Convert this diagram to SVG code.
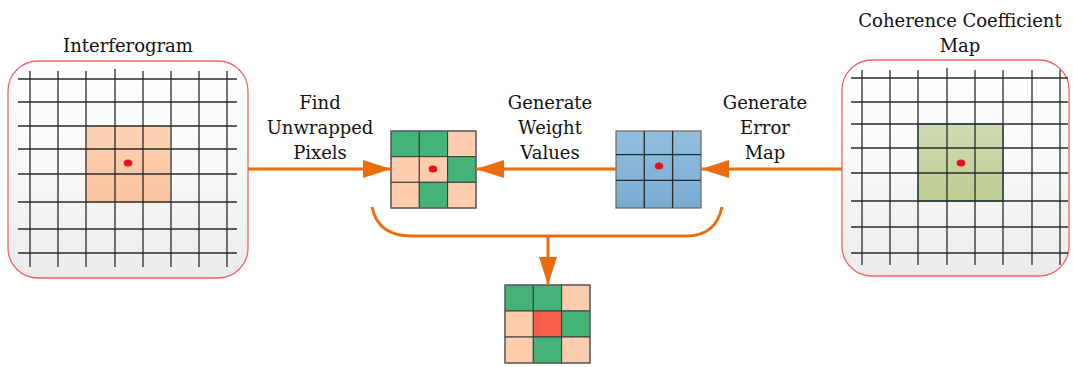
<svg xmlns="http://www.w3.org/2000/svg" width="1073" height="367" viewBox="0 0 1073 367">
<style>
.lbl{font-family:"DejaVu Serif","Liberation Serif",serif;font-size:18px;fill:#111;text-anchor:middle}
.panel{stroke:#f06565;stroke-width:1.3;fill:url(#pg)}
.grid line{stroke:#2a2a2a;stroke-width:1.3}
.conn{stroke:#ec6c0e;stroke-width:3;fill:none}
.cell{stroke:#3a3a3a;stroke-width:1}
.g{fill:#44b377}.p{fill:#fdcdad}.r{fill:#f75d4c}.b{fill:url(#bg)}
.dot{fill:#e8101a}
</style>
<defs>
<linearGradient id="pg" x1="0" y1="0" x2="0" y2="1"><stop offset="0" stop-color="#ffffff"/><stop offset="0.4" stop-color="#fafafa"/><stop offset="1" stop-color="#ebebeb"/></linearGradient>
<linearGradient id="og" x1="0" y1="0" x2="0" y2="1"><stop offset="0" stop-color="#fdd3b6"/><stop offset="1" stop-color="#fbc29e"/></linearGradient>
<linearGradient id="gg" x1="0" y1="0" x2="0" y2="1"><stop offset="0" stop-color="#d0dbb3"/><stop offset="1" stop-color="#bccd92"/></linearGradient>
<linearGradient id="bg" x1="0" y1="0" x2="0" y2="1"><stop offset="0" stop-color="#93bede"/><stop offset="1" stop-color="#79abd1"/></linearGradient>
<marker id="ah" markerUnits="userSpaceOnUse" markerWidth="28" markerHeight="20" refX="28" refY="10" orient="auto"><path d="M0,1 L28,10 L0,19 z" fill="#ec6c0e"/></marker>
</defs>

<g id="interferogram">
<text class="lbl" x="128" y="52">Interferogram</text>
<rect class="panel" x="8" y="61" width="240" height="217" rx="30"/>
<rect x="86" y="126" width="84" height="76" fill="url(#og)"/>
<g class="grid">
<line x1="18" y1="79" x2="237" y2="79"/><line x1="18" y1="102" x2="237" y2="102"/><line x1="18" y1="126" x2="237" y2="126"/><line x1="18" y1="149" x2="237" y2="149"/><line x1="18" y1="174" x2="237" y2="174"/><line x1="18" y1="202" x2="237" y2="202"/><line x1="18" y1="229" x2="237" y2="229"/><line x1="18" y1="253" x2="237" y2="253"/>
<line x1="30" y1="71" x2="30" y2="267"/><line x1="58" y1="71" x2="58" y2="267"/><line x1="86" y1="71" x2="86" y2="267"/><line x1="115" y1="69" x2="115" y2="267"/><line x1="143" y1="71" x2="143" y2="267"/><line x1="171" y1="71" x2="171" y2="267"/><line x1="199" y1="71" x2="199" y2="267"/><line x1="227" y1="71" x2="227" y2="267"/>
</g>
<ellipse class="dot" cx="128" cy="163" rx="4.3" ry="3.6"/>
</g>

<g id="coherence">
<text class="lbl" x="960" y="27">Coherence Coefficient</text>
<text class="lbl" x="960" y="52">Map</text>
<rect class="panel" x="842" y="60" width="227" height="216" rx="30"/>
<rect x="918" y="124" width="85" height="77" fill="url(#gg)" stroke="#1f8a9a" stroke-width="1.2"/>
<g class="grid">
<line x1="851" y1="78" x2="1068" y2="78"/><line x1="851" y1="102" x2="1068" y2="102"/><line x1="851" y1="124" x2="1068" y2="124"/><line x1="851" y1="148" x2="1068" y2="148"/><line x1="851" y1="173" x2="1068" y2="173"/><line x1="851" y1="201" x2="1068" y2="201"/><line x1="851" y1="227" x2="1068" y2="227"/><line x1="851" y1="253" x2="1068" y2="253"/>
<line x1="862" y1="70" x2="862" y2="265"/><line x1="890" y1="70" x2="890" y2="265"/><line x1="918" y1="70" x2="918" y2="265"/><line x1="947" y1="68" x2="947" y2="265"/><line x1="975" y1="70" x2="975" y2="265"/><line x1="1003" y1="70" x2="1003" y2="265"/><line x1="1032" y1="70" x2="1032" y2="265"/><line x1="1060" y1="70" x2="1060" y2="265"/>
</g>
<ellipse class="dot" cx="961" cy="163" rx="4.3" ry="3.6"/>
</g>

<g id="weights">
<rect class="cell g" x="391" y="131" width="28.3" height="25.7"/>
<rect class="cell g" x="419.3" y="131" width="28.3" height="25.7"/>
<rect class="cell p" x="447.6" y="131" width="28.4" height="25.7"/>
<rect class="cell p" x="391" y="156.7" width="28.3" height="25.6"/>
<rect class="cell p" x="419.3" y="156.7" width="28.3" height="25.6"/>
<rect class="cell g" x="447.6" y="156.7" width="28.4" height="25.6"/>
<rect class="cell p" x="391" y="182.3" width="28.3" height="25.7"/>
<rect class="cell g" x="419.3" y="182.3" width="28.3" height="25.7"/>
<rect class="cell p" x="447.6" y="182.3" width="28.4" height="25.7"/>
<rect x="391" y="131" width="85" height="77" fill="none" stroke="#666" stroke-width="1.2"/>
<ellipse class="dot" cx="433" cy="169" rx="4.3" ry="3.6"/>
</g>

<g id="errormap">
<rect x="616" y="131" width="85" height="77" fill="url(#bg)" stroke="#666" stroke-width="1.2"/>
<g class="grid">
<line x1="644.3" y1="131" x2="644.3" y2="208"/><line x1="672.6" y1="131" x2="672.6" y2="208"/>
<line x1="616" y1="154.7" x2="701" y2="154.7"/><line x1="616" y1="180.3" x2="701" y2="180.3"/>
</g>
<ellipse class="dot" cx="659" cy="166" rx="4.3" ry="3.6"/>
</g>

<g id="result">
<rect class="cell g" x="505" y="285" width="28.3" height="26"/>
<rect class="cell g" x="533.3" y="285" width="28.3" height="26"/>
<rect class="cell p" x="561.6" y="285" width="28.4" height="26"/>
<rect class="cell p" x="505" y="311" width="28.3" height="26"/>
<rect class="cell r" x="533.3" y="311" width="28.3" height="26"/>
<rect class="cell g" x="561.6" y="311" width="28.4" height="26"/>
<rect class="cell p" x="505" y="337" width="28.3" height="26"/>
<rect class="cell g" x="533.3" y="337" width="28.3" height="26"/>
<rect class="cell p" x="561.6" y="337" width="28.4" height="26"/>
<rect x="505" y="285" width="85" height="78" fill="none" stroke="#666" stroke-width="1.2"/>
</g>

<g id="labels">
<text class="lbl" x="320" y="109">Find</text>
<text class="lbl" x="320" y="134">Unwrapped</text>
<text class="lbl" x="320" y="159">Pixels</text>
<text class="lbl" x="550" y="109">Generate</text>
<text class="lbl" x="550" y="134">Weight</text>
<text class="lbl" x="550" y="159">Values</text>
<text class="lbl" x="765" y="109">Generate</text>
<text class="lbl" x="765" y="134">Error</text>
<text class="lbl" x="765" y="159">Map</text>
</g>

<g id="connectors">
<line class="conn" x1="248" y1="169" x2="391" y2="169" marker-end="url(#ah)"/>
<line class="conn" x1="616" y1="169" x2="476" y2="169" marker-end="url(#ah)"/>
<line class="conn" x1="842" y1="169" x2="701" y2="169" marker-end="url(#ah)"/>
<path class="conn" d="M372,207 C376,227 390,236 412,236 L686,236 C706,236 718,226 722,207"/>
<line class="conn" x1="548" y1="236" x2="548" y2="285" marker-end="url(#ah)"/>
</g>
</svg>
